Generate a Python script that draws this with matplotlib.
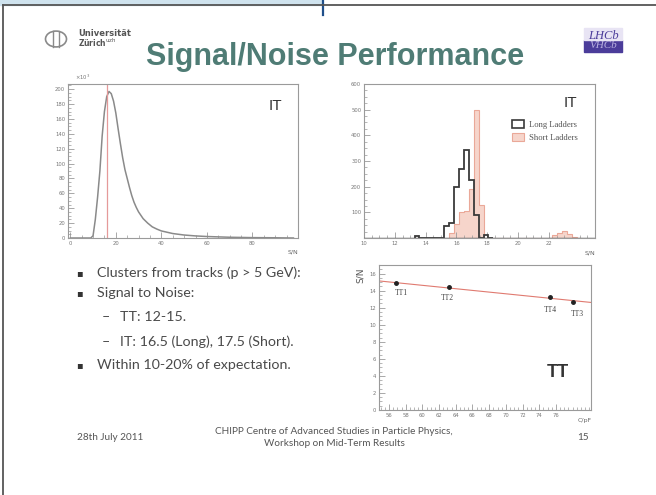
import numpy as np
import matplotlib.pyplot as plt
from matplotlib.patches import Rectangle, Circle, Patch
from matplotlib.lines import Line2D

W, H = 656, 495

# IT: cluster S/N distribution (counts in units of 10^3)
it_sn = [0, 8, 9, 10, 11, 12, 13, 14, 15, 16, 17, 18, 19, 20, 21, 22, 23, 24,
         25, 26, 27, 28, 29, 30, 32, 34, 36, 38, 40, 45, 50, 55, 60, 70, 80, 90, 98]
it_counts = [0, 0, 0, 3, 25, 55, 90, 137, 170, 190, 197, 194, 184, 168, 147, 127,
             108, 92, 80, 68, 57, 48, 41, 35, 26, 20, 15, 12, 9.5, 6, 4, 2.8, 2,
             1, 0.5, 0.3, 0]
it_peak = 16.3

# IT: most probable S/N per ladder (histogram, bins of 0.32 starting at 13.28)
bin_lo = 13.28
bin_w = 0.32
long_counts = [8, 0, 0, 0, 0, 0, 45, 58, 200, 270, 344, 227, 90, 0, 12, 0]
short_counts = [0, 0, 0, 0, 0, 0, 0, 20, 55, 100, 105, 190, 500, 130, 0, 0,
                0, 0, 0, 0, 0, 0, 0, 0, 0, 0, 0, 0, 10, 20, 28, 15, 5, 0]

# TT: S/N versus capacitance
tt_names = ["TT1", "TT2", "TT4", "TT3"]
tt_cap = [56.8, 63.2, 75.3, 78.1]
tt_sn = [14.85, 14.4, 13.2, 12.7]
tt_label_off = [(4, -7), (-1, -8), (0, -9), (3, -9)]

bullets = ["Clusters from tracks (p > 5 GeV):", "Signal to Noise:",
           "TT: 12-15.", "IT: 16.5 (Long), 17.5 (Short).",
           "Within 10-20% of expectation."]
bullet_level = [0, 0, 1, 1, 0]


def fx(x):
    return x / W


def fy(y):
    return 1 - y / H


def box(x0, y0, x1, y1):
    return [fx(x0), fy(y1), (x1 - x0) / W, (y1 - y0) / H]


def root_style(ax):
    for s in ax.spines.values():
        s.set_color("#9a9a9a")
        s.set_linewidth(0.8)
    ax.tick_params(which="both", direction="in", colors="#9a9a9a",
                   labelcolor="#777777", labelsize=3.8, pad=2,
                   top=False, right=False)
    ax.tick_params(which="major", length=4, width=0.6)
    ax.tick_params(which="minor", length=2, width=0.5)


fig = plt.figure(figsize=(W / 100, H / 100), dpi=100)

# slide frame
fig.patches.append(Rectangle((0, fy(5)), fx(321), 5 / H, transform=fig.transFigure,
                             color="#cfe3ee", zorder=0))
fig.lines.append(Line2D([fx(323), fx(323)], [1, fy(15)], transform=fig.transFigure,
                        color="#1f4f8a", lw=1.6))
fig.lines.append(Line2D([fx(3), 1], [fy(5), fy(5)], transform=fig.transFigure,
                        color="#555555", lw=1.3))
fig.lines.append(Line2D([fx(3), fx(3)], [fy(5), 0], transform=fig.transFigure,
                        color="#555555", lw=1.3))

# logos
fig.patches.append(Circle((fx(56), fy(39)), 10.5 / W, transform=fig.transFigure,
                          fill=False, ec="#8a8a8a", lw=1.2))
fig.lines.append(Line2D([fx(53), fx(53)], [fy(31), fy(47)], transform=fig.transFigure,
                        color="#8a8a8a", lw=1.0))
fig.lines.append(Line2D([fx(59), fx(59)], [fy(31), fy(47)], transform=fig.transFigure,
                        color="#8a8a8a", lw=1.0))
fig.text(fx(78), fy(33), "Universität", fontsize=6, fontweight="bold",
         color="#555555", va="center", family="DejaVu Sans")
fig.text(fx(78), fy(43), "Zürich$^{\\rm uzh}$", fontsize=5.5, fontweight="bold",
         color="#555555", va="center", family="DejaVu Sans")
fig.patches.append(Rectangle((fx(584), fy(52)), 38 / W, 12 / H, transform=fig.transFigure,
                             color="#4b3c9a", zorder=1))
fig.patches.append(Rectangle((fx(584), fy(40)), 38 / W, 12 / H, transform=fig.transFigure,
                             color="#e8e4f4", zorder=1))
fig.text(fx(603), fy(36), "LHCb", fontsize=9, style="italic", color="#4b3c9a",
         ha="center", va="center", family="Liberation Serif", zorder=2)
fig.text(fx(603), fy(46), "VHCb", fontsize=8, style="italic", color="#b9b0e0",
         ha="center", va="center", family="Liberation Serif", zorder=2)

fig.text(fx(335), fy(57), "Signal/Noise Performance", fontsize=22, fontweight="bold",
         color="#4f7c75", ha="center", va="center", family="Liberation Sans")

# left: IT S/N distribution
ax1 = fig.add_axes(box(68, 84, 298, 238))
ax1.plot(it_sn, it_counts, color="#8a8a8a", lw=1.1)
ax1.axvline(it_peak, color="#e59a9a", lw=0.9)
ax1.set_xlim(-1, 100)
ax1.set_ylim(0, 207)
ax1.set_xticks([0, 20, 40, 60, 80])
ax1.set_xticks(np.arange(0, 100, 5), minor=True)
ax1.set_yticks(np.arange(0, 201, 20))
ax1.set_yticks(np.arange(0, 207, 5), minor=True)
root_style(ax1)
ax1.text(0.03, 1.01, r"$\times10^3$", transform=ax1.transAxes, fontsize=3.8,
         color="#777777", va="bottom")
ax1.text(1.0, -0.09, "S/N", transform=ax1.transAxes, fontsize=4.5, color="#666666",
         ha="right", va="center")
ax1.text(0.9, 0.86, "IT", transform=ax1.transAxes, fontsize=11, color="#333333",
         ha="center", va="center", family="Liberation Sans")

# right top: IT per ladder type
ax2 = fig.add_axes(box(364, 84, 595, 238))
short_edges = bin_lo + bin_w * np.arange(len(short_counts) + 1)
long_edges = bin_lo + bin_w * np.arange(len(long_counts) + 1)
ax2.stairs(short_counts, short_edges, fill=True, color="#f6d5cb", zorder=1)
ax2.stairs(short_counts, short_edges, color="#eaa898", lw=0.8, zorder=2)
ax2.stairs(long_counts, long_edges, color="#3a3a3a", lw=1.3, zorder=3)
ax2.axhline(0, color="#555555", lw=1.0, zorder=3)
ax2.set_xlim(10, 25)
ax2.set_ylim(0, 600)
ax2.set_xticks(np.arange(10, 23, 2))
ax2.set_xticks(np.arange(10, 25, 0.5), minor=True)
ax2.set_yticks(np.arange(100, 601, 100))
ax2.set_yticks(np.arange(0, 600, 25), minor=True)
root_style(ax2)
ax2.text(1.0, -0.1, "S/N", transform=ax2.transAxes, fontsize=4.5, color="#666666",
         ha="right", va="center")
ax2.text(0.895, 0.875, "IT", transform=ax2.transAxes, fontsize=11, color="#333333",
         ha="center", va="center", family="Liberation Sans")
handles = [Patch(facecolor="white", edgecolor="#3a3a3a", lw=1.2, label="Long Ladders"),
           Patch(facecolor="#f6d5cb", edgecolor="#eaa898", lw=0.8, label="Short Ladders")]
ax2.legend(handles=handles, loc="upper left", bbox_to_anchor=(0.64, 0.765),
           frameon=False, prop={"family": "Liberation Serif", "size": 6.2},
           labelcolor="#555555", handlelength=1.4, handleheight=1.0,
           borderpad=0, borderaxespad=0, labelspacing=0.45, handletextpad=0.6)

# right bottom: TT S/N vs capacitance
ax3 = fig.add_axes(box(379, 265, 591, 410))
fit = np.polyfit(tt_cap, tt_sn, 1)
xf = np.array([54.8, 80.2])
ax3.plot(xf, np.polyval(fit, xf), color="#e07a70", lw=0.8)
ax3.plot(tt_cap, tt_sn, "o", color="#222222", ms=2.5)
for name, cx, cy, off in zip(tt_names, tt_cap, tt_sn, tt_label_off):
    ax3.annotate(name, (cx, cy), xytext=off, textcoords="offset points",
                 ha="center", va="center", fontsize=5.5, color="#444444",
                 family="Liberation Serif")
ax3.set_xlim(54.8, 80.2)
ax3.set_ylim(0, 17)
ax3.set_xticks(np.arange(56, 77, 2))
ax3.set_xticks(np.arange(55, 80.2, 0.5), minor=True)
ax3.set_yticks(np.arange(0, 17, 2))
ax3.set_yticks(np.arange(0, 17, 0.5), minor=True)
root_style(ax3)
ax3.text(-0.09, 0.93, "S/N", transform=ax3.transAxes, fontsize=6.5, color="#555555",
         rotation=90, ha="center", va="center")
ax3.text(0.97, -0.07, "C/pF", transform=ax3.transAxes, fontsize=4.5, color="#666666",
         ha="center", va="center")
ax3.text(0.845, 0.26, "TT", transform=ax3.transAxes, fontsize=13, fontweight="bold",
         color="#333333", ha="center", va="center", family="Liberation Sans")

# bullet text
line_y = [272.7, 293.3, 316.7, 341.7, 365]
for txt, lvl, y in zip(bullets, bullet_level, line_y):
    if lvl == 0:
        fig.text(fx(79), fy(y), "\u25aa", fontsize=7, color="#333333", va="center",
                 ha="center", family="DejaVu Sans")
        fig.text(fx(97), fy(y), txt, fontsize=10.3, color="#4a4a4a", va="center",
                 family="Lato")
    else:
        fig.text(fx(106), fy(y), "\u2013", fontsize=10.3, color="#4a4a4a", va="center",
                 ha="center", family="Lato")
        fig.text(fx(120), fy(y), txt, fontsize=10.3, color="#4a4a4a", va="center",
                 family="Lato")

# footer
fig.text(fx(110), fy(437), "28th July 2011", fontsize=7.2, color="#555555",
         ha="center", va="center", family="Lato")
fig.text(fx(334), fy(431), "CHIPP Centre of Advanced Studies in Particle Physics,",
         fontsize=7.2, color="#555555", ha="center", va="center", family="Lato")
fig.text(fx(334), fy(444), "Workshop on Mid-Term Results", fontsize=7.2,
         color="#555555", ha="center", va="center", family="Lato")
fig.text(fx(583), fy(437), "15", fontsize=7.2, color="#555555", ha="center",
         va="center", family="Lato")

fig.savefig("out.png", dpi=100)
